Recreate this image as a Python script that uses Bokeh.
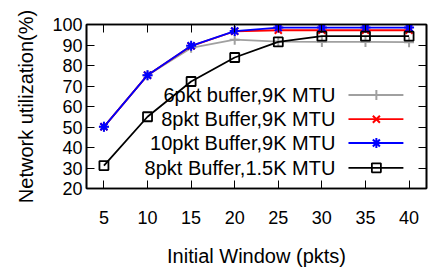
from bokeh.plotting import figure
from bokeh.models import Range1d, FixedTicker, LinearAxis, Label
from bokeh.embed import file_html
from bokeh.resources import INLINE

# ---- data ----
initial_window = [5, 10, 15, 20, 25, 30, 35, 40]
buf6_9k = [50.1, 75.3, 88.6, 92.6, 91.6, 91.5, 91.5, 91.4]
buf8_9k = [50.1, 75.3, 89.5, 96.7, 97.2, 97.2, 97.2, 97.2]
buf10_9k = [50.1, 75.3, 89.6, 96.8, 98.5, 98.5, 98.5, 98.5]
buf8_15k = [31.2, 55.0, 72.2, 83.9, 91.5, 94.3, 94.3, 94.3]

series_labels = ["6pkt buffer,9K MTU", "8pkt Buffer,9K MTU",
                 "10pkt Buffer,9K MTU", "8pkt Buffer,1.5K MTU"]
x_ticks = [5, 10, 15, 20, 25, 30, 35, 40]
y_ticks = [20, 30, 40, 50, 60, 70, 80, 90, 100]

FONT = "Liberation Sans"

p = figure(width=429, height=269, output_backend="svg", toolbar_location=None,
           x_range=Range1d(3, 42), y_range=Range1d(20, 100),
           min_border_left=86, min_border_right=3, min_border_top=24,
           min_border_bottom=76)
p.xgrid.visible = False
p.ygrid.visible = False
p.outline_line_color = "black"
p.outline_line_width = 1.6
p.outline_line_alpha = 1.0
p.background_fill_color = "white"
p.border_fill_color = "white"

def style_axis(ax, ticks, show_labels=True):
    ax.ticker = FixedTicker(ticks=ticks)
    ax.major_tick_in = 8
    ax.major_tick_out = 0
    ax.minor_tick_in = 0
    ax.minor_tick_out = 0
    ax.axis_line_color = "black"
    ax.axis_line_width = 1.6
    ax.major_tick_line_color = "black"
    ax.major_tick_line_width = 1
    ax.major_label_text_font = FONT
    ax.major_label_text_color = "black"
    if show_labels:
        ax.major_label_text_font_size = "18px"
    else:
        ax.major_label_overrides = {t: "" for t in ticks}
        ax.major_label_text_font_size = "6px"
        ax.major_label_standoff = 0

style_axis(p.xaxis[0], x_ticks)
style_axis(p.yaxis[0], y_ticks)
p.xaxis[0].major_label_standoff = 22
p.yaxis[0].major_label_standoff = 4
p.xaxis.axis_label = "Initial Window (pkts)"
p.yaxis.axis_label = "Network utilization(%)"
for ax in (p.xaxis[0], p.yaxis[0]):
    ax.axis_label_text_font = FONT
    ax.axis_label_text_font_size = "20px"
    ax.axis_label_text_font_style = "normal"
    ax.axis_label_text_color = "black"
p.xaxis[0].axis_label_standoff = 18
p.yaxis[0].axis_label_standoff = 12

top_ax = LinearAxis()
style_axis(top_ax, x_ticks, show_labels=False)
p.add_layout(top_ax, "above")
right_ax = LinearAxis()
style_axis(right_ax, y_ticks, show_labels=False)
p.add_layout(right_ax, "right")

styles = [
    dict(color="#a0a0a0", marker="cross"),
    dict(color="#ff0000", marker="x"),
    dict(color="#0000ff", marker="asterisk"),
    dict(color="#000000", marker="square"),
]
all_series = [buf6_9k, buf8_9k, buf10_9k, buf8_15k]

# legend geometry (data coordinates)
leg_text_x = 31.55
leg_line_x0, leg_line_x1, leg_mark_x = 33.05, 39.35, 36.25
leg_rows = [65.6, 53.8, 42.2, 30.1]

for vals, st, lab, ly in zip(all_series, styles, series_labels, leg_rows):
    c = st["color"]
    p.line(initial_window, vals, line_color=c, line_width=1.8)
    if st["marker"] == "square":
        p.scatter(initial_window, vals, marker="square", size=9,
                  fill_color=None, line_color=c, line_width=1.8)
    else:
        p.scatter(initial_window, vals, marker=st["marker"], size=10,
                  line_color=c, line_width=2)
    # legend entry
    p.line([leg_line_x0, leg_line_x1], [ly, ly], line_color=c, line_width=1.8)
    if st["marker"] == "square":
        p.scatter([leg_mark_x], [ly], marker="square", size=9,
                  fill_color=None, line_color=c, line_width=1.8)
    else:
        p.scatter([leg_mark_x], [ly], marker=st["marker"], size=10,
                  line_color=c, line_width=2)
    p.add_layout(Label(x=leg_text_x, y=ly, text=lab, text_align="right",
                       text_baseline="middle", text_font=FONT,
                       text_font_size="20px", text_color="black"))

open("out.html", "w").write(file_html(p, INLINE))
